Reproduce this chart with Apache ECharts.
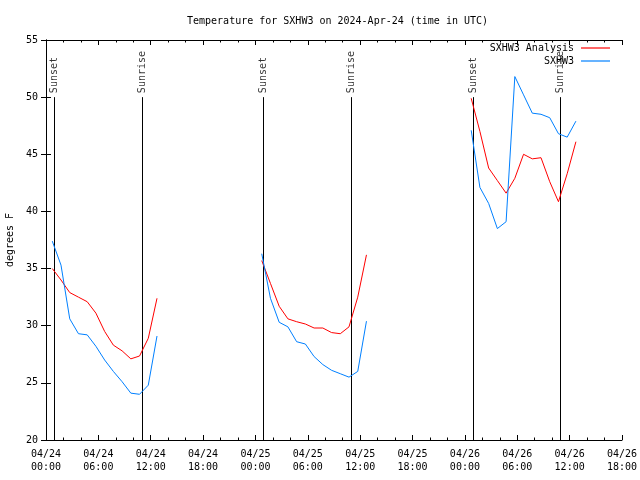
<!DOCTYPE html>
<html>
<head>
<meta charset="utf-8">
<script src="https://cdn.jsdelivr.net/npm/echarts@6/dist/echarts.min.js"></script>
<style>html,body{margin:0;padding:0;background:#fff}#c{width:640px;height:480px}</style>
</head>
<body>
<div id="c"></div>
<script>
// hours since 2024-04-24 00:00 UTC
const day1Hours = [0.72, 1.72, 2.72, 3.72, 4.72, 5.72, 6.72, 7.72, 8.72, 9.72, 10.72, 11.72, 12.72];
const day2Hours = [24.72, 25.72, 26.72, 27.72, 28.72, 29.72, 30.72, 31.72, 32.72, 33.72, 34.72, 35.72, 36.72];
const day3Hours = [48.72, 49.72, 50.72, 51.72, 52.72, 53.72, 54.72, 55.72, 56.72, 57.72, 58.72, 59.72, 60.72];

const analysisDay1 = [35.0, 34.0, 32.9, 32.5, 32.1, 31.1, 29.5, 28.3, 27.8, 27.1, 27.35, 28.9, 32.4];
const analysisDay2 = [35.7, 33.7, 31.7, 30.6, 30.35, 30.15, 29.8, 29.8, 29.4, 29.3, 29.9, 32.5, 36.2];
const analysisDay3 = [49.9, 47.0, 43.8, 42.7, 41.6, 42.9, 45.0, 44.6, 44.7, 42.6, 40.85, 43.3, 46.1];

const obsDay1 = [37.4, 35.3, 30.6, 29.3, 29.2, 28.2, 27.0, 26.0, 25.1, 24.1, 24.0, 24.8, 29.1];
const obsDay2 = [36.3, 32.4, 30.3, 29.9, 28.6, 28.4, 27.3, 26.6, 26.1, 25.8, 25.5, 26.0, 30.4];
const obsDay3 = [47.1, 42.1, 40.7, 38.5, 39.1, 51.8, 50.2, 48.6, 48.5, 48.2, 46.8, 46.5, 47.9];

const sunHours = [0.93, 11.0, 24.9, 34.95, 48.95, 58.9];
const sunLabels = ['Sunset', 'Sunrise', 'Sunset', 'Sunrise', 'Sunset', 'Sunrise'];

const xTickLabels = ['04/24\n00:00', '04/24\n06:00', '04/24\n12:00', '04/24\n18:00',
  '04/25\n00:00', '04/25\n06:00', '04/25\n12:00', '04/25\n18:00',
  '04/26\n00:00', '04/26\n06:00', '04/26\n12:00', '04/26\n18:00'];

const FONT = 'DejaVu Sans Mono';
const RED = '#ff0000';
const BLUE = '#0080ff';

function pairs(xs, ys) { return xs.map((x, i) => [x, ys[i]]); }

function lineSeries(name, color, xs, ys) {
  return {
    name: name, type: 'line', xAxisIndex: 0, yAxisIndex: 0,
    data: pairs(xs, ys), symbol: 'none', showSymbol: false,
    lineStyle: { color: color, width: 1 }, itemStyle: { color: color },
    animation: false, z: 3
  };
}

const chart = echarts.init(document.getElementById('c'), null, { renderer: 'canvas' });

const xCommon = {
  type: 'value', min: 0, max: 66, interval: 6,
  axisLine: { show: true, lineStyle: { color: '#000', width: 1 } },
  axisTick: { show: true, inside: true, length: 5, lineStyle: { color: '#000' } },
  minorTick: { show: true, splitNumber: 3, length: 2.5, lineStyle: { color: '#000' } },
  splitLine: { show: false }
};
const yCommon = {
  type: 'value', min: 20, max: 55, interval: 5,
  axisLine: { show: true, lineStyle: { color: '#000', width: 1 } },
  axisTick: { show: true, inside: true, length: 5, lineStyle: { color: '#000' } },
  splitLine: { show: false }
};

const legendCommon = {
  orient: 'horizontal', right: 30, align: 'right', padding: 0,
  icon: 'rect', itemWidth: 29, itemHeight: 1.2, itemGap: 0,
  textStyle: { fontFamily: FONT, fontSize: 10, color: '#000', padding: [0, 2, 0, 0] },
  selectedMode: false
};

chart.setOption({
  animation: false,
  backgroundColor: '#fff',
  title: {
    text: 'Temperature for SXHW3 on 2024-Apr-24 (time in UTC)',
    left: 182, top: 11,
    textStyle: { fontFamily: FONT, fontSize: 10, fontWeight: 'normal', color: '#000' }
  },
  legend: [
    Object.assign({}, legendCommon, { top: 43, data: ['SXHW3 Analysis'] }),
    Object.assign({}, legendCommon, { top: 56, data: ['SXHW3'] })
  ],
  grid: { left: 46, right: 18, top: 40, bottom: 40, containLabel: false, outerBoundsMode: 'none' },
  xAxis: [
    Object.assign({}, xCommon, {
      position: 'bottom',
      axisLabel: {
        show: true, margin: 8, fontFamily: FONT, fontSize: 10, color: '#000', lineHeight: 13,
        formatter: function (v) { return xTickLabels[Math.round(v / 6)] || ''; }
      }
    }),
    Object.assign({}, xCommon, { position: 'top', axisLabel: { show: false } })
  ],
  yAxis: [
    Object.assign({}, yCommon, {
      position: 'left',
      name: 'degrees F', nameLocation: 'middle', nameGap: 31, nameRotate: 90,
      nameTextStyle: { fontFamily: FONT, fontSize: 10, color: '#000' },
      axisLabel: { show: true, margin: 8, fontFamily: FONT, fontSize: 10, color: '#000' }
    }),
    Object.assign({}, yCommon, { position: 'right', axisLabel: { show: false } })
  ],
  series: [
    lineSeries('SXHW3 Analysis', RED, day1Hours, analysisDay1),
    lineSeries('SXHW3 Analysis', RED, day2Hours, analysisDay2),
    lineSeries('SXHW3 Analysis', RED, day3Hours, analysisDay3),
    lineSeries('SXHW3', BLUE, day1Hours, obsDay1),
    lineSeries('SXHW3', BLUE, day2Hours, obsDay2),
    lineSeries('SXHW3', BLUE, day3Hours, obsDay3),
    {
      name: 'sunlines', type: 'lines', coordinateSystem: 'cartesian2d',
      xAxisIndex: 0, yAxisIndex: 0, silent: true, z: 2,
      lineStyle: { color: '#000', width: 1, opacity: 1 },
      data: sunHours.map(h => ({ coords: [[h, 20], [h, 50]] }))
    },
    {
      name: 'sunlabels', type: 'scatter', xAxisIndex: 0, yAxisIndex: 0,
      symbolSize: 0, silent: true, z: 4,
      data: sunHours.map((h, i) => [h, 50, sunLabels[i]]),
      label: {
        show: true, position: 'top', distance: 4, rotate: 90,
        align: 'left', verticalAlign: 'middle',
        fontFamily: FONT, fontSize: 10, color: '#000',
        formatter: p => p.value[2]
      }
    }
  ]
});
</script>
</body>
</html>
